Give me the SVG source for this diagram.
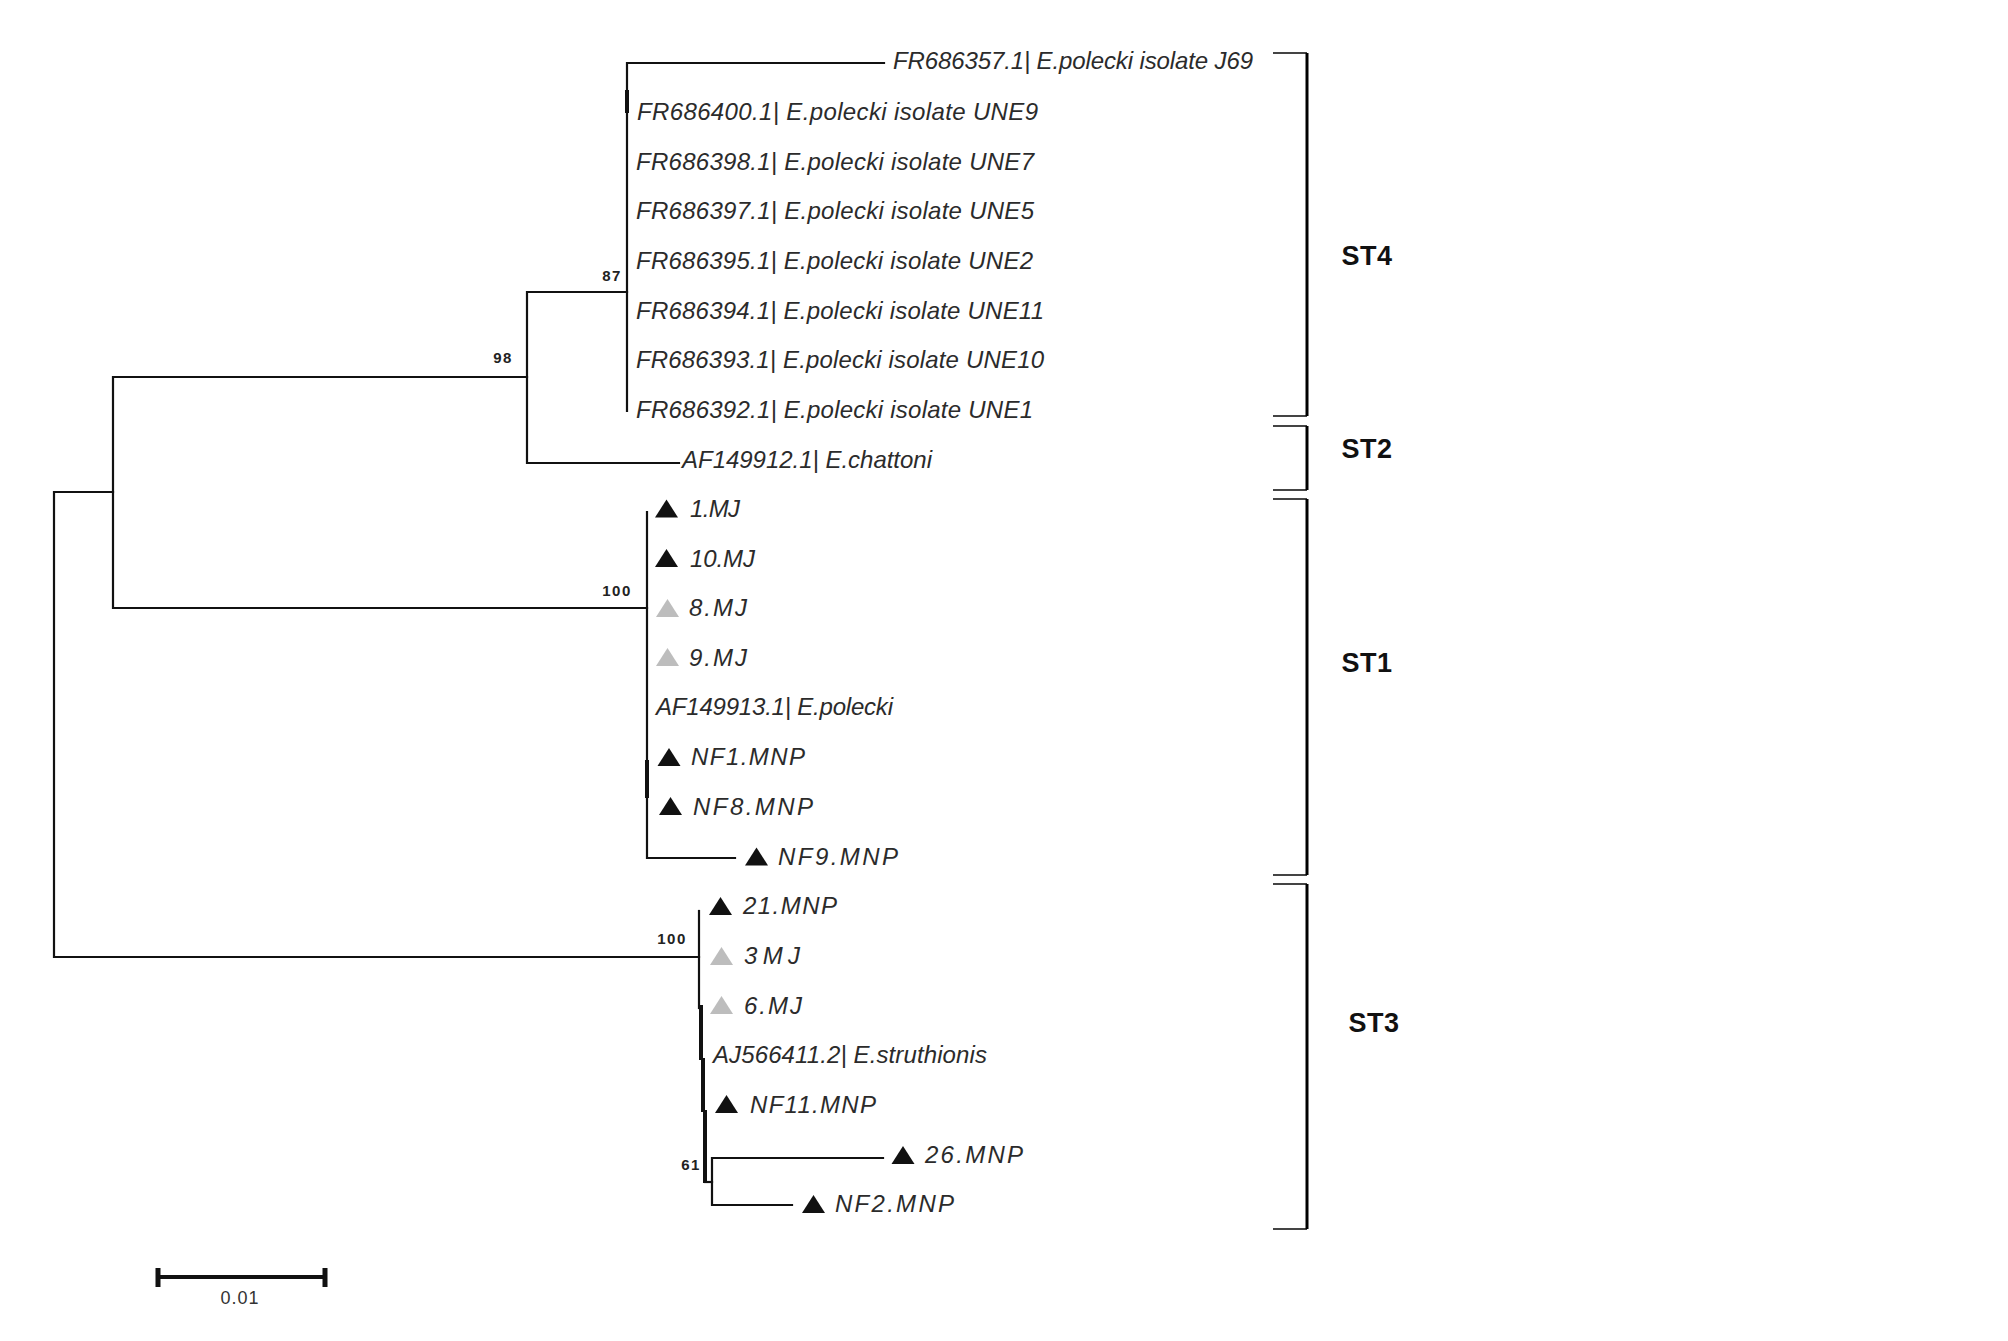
<svg xmlns="http://www.w3.org/2000/svg" width="2008" height="1341" viewBox="0 0 2008 1341">
<style>
.br{stroke:#111;stroke-width:2.2;fill:none;stroke-linecap:square}
.thick{stroke:#111;stroke-width:4;fill:none}
.lbl{font-family:"Liberation Sans",Arial,sans-serif;font-style:italic;font-size:24px;fill:#2b2b2b}
.bs{font-family:"Liberation Sans",Arial,sans-serif;font-size:15px;font-weight:bold;fill:#222;letter-spacing:1.5px;text-anchor:middle}
.st{font-family:"Liberation Sans",Arial,sans-serif;font-size:27px;font-weight:bold;fill:#111;letter-spacing:0.5px;text-anchor:middle}
.bkh{stroke:#444;stroke-width:2;fill:none}
.bkv{stroke:#000;stroke-width:3;fill:none}
.blk{fill:#111}
.gry{fill:#bdbdbd}
</style>
<defs>
<path id="tri" d="M0,-9 L11.5,9 L-11.5,9 Z"/>
</defs>
<rect width="2008" height="1341" fill="#fff"/>

<g id="connectors">
<path class="br" d="M113,492 H54 V957 H699"/>
<path class="br" d="M527,377 H113 V608 H647"/>
<path class="br" d="M627,292 H527 V463 H679"/>
<path class="br" d="M884,63 H627 V411"/>
<line class="thick" x1="627" y1="90" x2="627" y2="113"/>
<path class="br" d="M647,512 V858 H735"/>
<line class="thick" x1="647" y1="760" x2="647" y2="798"/>
<path class="br" d="M699,911 V1008"/>
<path class="thick" d="M701,1005 V1060 M703,1058 V1112 M705,1110 V1183"/>
<path class="br" d="M705,1182 H712"/>
<path class="br" d="M883,1158 H712 V1205 H792"/>
</g>

<g id="bootstrap">
<text class="bs" x="612" y="281">87</text>
<text class="bs" x="503" y="363">98</text>
<text class="bs" x="617" y="596">100</text>
<text class="bs" x="672" y="944">100</text>
<text class="bs" x="691" y="1170">61</text>
</g>

<g id="leaf-FR686357"><text class="lbl" x="893" y="69" textLength="360" lengthAdjust="spacing">FR686357.1| E.polecki isolate J69</text></g>
<g id="leaf-FR686400"><text class="lbl" x="637" y="120" textLength="401" lengthAdjust="spacing">FR686400.1| E.polecki isolate UNE9</text></g>
<g id="leaf-FR686398"><text class="lbl" x="636" y="170" textLength="398" lengthAdjust="spacing">FR686398.1| E.polecki isolate UNE7</text></g>
<g id="leaf-FR686397"><text class="lbl" x="636" y="219" textLength="398" lengthAdjust="spacing">FR686397.1| E.polecki isolate UNE5</text></g>
<g id="leaf-FR686395"><text class="lbl" x="636" y="269" textLength="397" lengthAdjust="spacing">FR686395.1| E.polecki isolate UNE2</text></g>
<g id="leaf-FR686394"><text class="lbl" x="636" y="319" textLength="408" lengthAdjust="spacing">FR686394.1| E.polecki isolate UNE11</text></g>
<g id="leaf-FR686393"><text class="lbl" x="636" y="368" textLength="408" lengthAdjust="spacing">FR686393.1| E.polecki isolate UNE10</text></g>
<g id="leaf-FR686392"><text class="lbl" x="636" y="418" textLength="397" lengthAdjust="spacing">FR686392.1| E.polecki isolate UNE1</text></g>
<g id="leaf-AF149912"><text class="lbl" x="682" y="468" textLength="250" lengthAdjust="spacing">AF149912.1| E.chattoni</text></g>

<g id="leaf-1MJ"><use href="#tri" class="blk" x="666.5" y="508.5"/><text class="lbl" x="690" y="517" textLength="50" lengthAdjust="spacing">1.MJ</text></g>
<g id="leaf-10MJ"><use href="#tri" class="blk" x="666.5" y="558"/><text class="lbl" x="690" y="567" textLength="65" lengthAdjust="spacing">10.MJ</text></g>
<g id="leaf-8MJ"><use href="#tri" class="gry" x="667.5" y="608"/><text class="lbl" x="689" y="616" textLength="58" lengthAdjust="spacing">8.MJ</text></g>
<g id="leaf-9MJ"><use href="#tri" class="gry" x="667.5" y="657"/><text class="lbl" x="689" y="666" textLength="58" lengthAdjust="spacing">9.MJ</text></g>
<g id="leaf-AF149913"><text class="lbl" x="656" y="715" textLength="237" lengthAdjust="spacing">AF149913.1| E.polecki</text></g>
<g id="leaf-NF1"><use href="#tri" class="blk" x="669" y="757"/><text class="lbl" x="691" y="765" textLength="114" lengthAdjust="spacing">NF1.MNP</text></g>
<g id="leaf-NF8"><use href="#tri" class="blk" x="670.5" y="806"/><text class="lbl" x="693" y="815" textLength="120" lengthAdjust="spacing">NF8.MNP</text></g>
<g id="leaf-NF9"><use href="#tri" class="blk" x="756.5" y="856.5"/><text class="lbl" x="778" y="865" textLength="120" lengthAdjust="spacing">NF9.MNP</text></g>

<g id="leaf-21MNP"><use href="#tri" class="blk" x="720.5" y="906"/><text class="lbl" x="743" y="914" textLength="94" lengthAdjust="spacing">21.MNP</text></g>
<g id="leaf-3MJ"><use href="#tri" class="gry" x="721.5" y="956"/><text class="lbl" x="744" y="964" textLength="56" lengthAdjust="spacing">3MJ</text></g>
<g id="leaf-6MJ"><use href="#tri" class="gry" x="721.5" y="1005"/><text class="lbl" x="744" y="1014" textLength="58" lengthAdjust="spacing">6.MJ</text></g>
<g id="leaf-AJ566411"><text class="lbl" x="713" y="1063" textLength="274" lengthAdjust="spacing">AJ566411.2| E.struthionis</text></g>
<g id="leaf-NF11"><use href="#tri" class="blk" x="726.5" y="1104"/><text class="lbl" x="750" y="1113" textLength="126" lengthAdjust="spacing">NF11.MNP</text></g>
<g id="leaf-26MNP"><use href="#tri" class="blk" x="903" y="1155"/><text class="lbl" x="925" y="1163" textLength="98" lengthAdjust="spacing">26.MNP</text></g>
<g id="leaf-NF2"><use href="#tri" class="blk" x="813.5" y="1204"/><text class="lbl" x="835" y="1212" textLength="119" lengthAdjust="spacing">NF2.MNP</text></g>

<g id="clade-ST4"><path class="bkh" d="M1273,53 H1307 M1273,416 H1307"/><path class="bkv" d="M1307,53 V416"/><text class="st" x="1367" y="265">ST4</text></g>
<g id="clade-ST2"><path class="bkh" d="M1273,426 H1307 M1273,490 H1307"/><path class="bkv" d="M1307,426 V490"/><text class="st" x="1367" y="458">ST2</text></g>
<g id="clade-ST1"><path class="bkh" d="M1273,499 H1307 M1273,875 H1307"/><path class="bkv" d="M1307,499 V875"/><text class="st" x="1367" y="672">ST1</text></g>
<g id="clade-ST3"><path class="bkh" d="M1273,884 H1307 M1273,1229 H1307"/><path class="bkv" d="M1307,884 V1229"/><text class="st" x="1374" y="1032">ST3</text></g>

<g id="scale-bar">
<path d="M158,1277 H325" stroke="#111" stroke-width="4"/>
<path d="M158,1268 V1287 M325,1268 V1287" stroke="#111" stroke-width="5"/>
<text x="240" y="1304" font-family="Liberation Sans, Arial, sans-serif" font-size="18" fill="#333" text-anchor="middle" letter-spacing="1">0.01</text>
</g>
</svg>
